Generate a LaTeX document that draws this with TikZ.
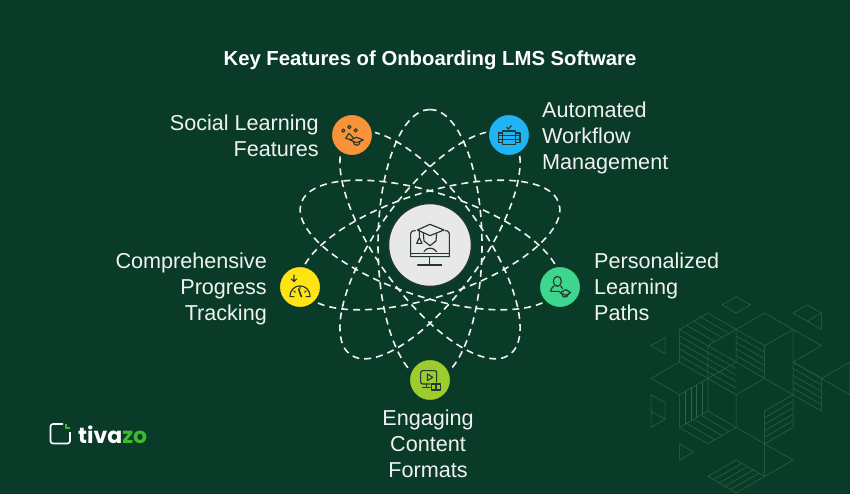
\documentclass[tikz,border=0pt]{standalone}
\usepackage{fontspec}
\setmainfont{Liberation Sans}
\newfontfamily\logofont{Poppins}
\definecolor{bgdark}{HTML}{0A3B28}
\definecolor{patline}{HTML}{2C664A}
\definecolor{inkdark}{HTML}{23382F}
\definecolor{softwhite}{HTML}{F0F2F0}
\definecolor{logogreen}{HTML}{3DBB2F}
\definecolor{orangefill}{HTML}{F89339}
\definecolor{bluefill}{HTML}{1FB5F5}
\definecolor{yellowfill}{HTML}{FFE312}
\definecolor{greenfill}{HTML}{3DD68C}
\definecolor{limefill}{HTML}{9CCC2E}
\tikzset{
  orbit/.style={draw=softwhite, line width=1.6pt, dash pattern=on 7pt off 5pt},
  feat/.style={circle, draw=bgdark, line width=3pt, minimum size=43pt, inner sep=0pt},
  hubnode/.style={circle, draw=inkdark, fill=black!9, line width=1.5pt, minimum size=83pt, inner sep=0pt},
  featlabel/.style={text=softwhite, font=\fontsize{21.6}{26}\selectfont, inner sep=0pt},
  pat/.style={draw=patline, line width=.5pt},
  zoomed/.style={x=.3333pt, y=-.3333pt, draw=inkdark, line width=1.15pt, line join=round, line cap=round},
}
\begin{document}
\begin{tikzpicture}[x=1pt,y=-1pt]
\useasboundingbox (0,0) rectangle (850,494);
\fill[bgdark] (0,0) rectangle (850,494);
% backdrop pattern
\begin{scope}[shift={(651,296.7)},x=28.4pt,y=-8.17pt]
\draw[pat] (2.5,1) -- (3,0) -- (3.5,1) -- (3,2) -- cycle;
\draw[pat] (5,2) -- (5.5,1) -- (6,2) -- (6,4) -- (5.5,3) -- cycle (5.5,3) -- (6,2);
\draw[pat] (1,4) -- (2,2) -- (3,4) -- (4,2) -- (5,4) -- (6,6) -- (5,8) -- (6,10) -- (7,8) -- (7,12) -- (6,10);
\draw[pat] (1,4) -- (1,8) -- (0,10) -- (1,12) -- (1,16) -- (2,18) -- (3,16) -- (3,12) -- (4,10) -- (4,6) -- (3,4) -- (3,8);
\draw[pat] (4,6) -- (5,4) -- (5,12);
\draw[pat] (1,4) -- (2,6) -- (2,14) -- (3,16) (2,6) -- (3,4);
\draw[pat] (1,8) -- (2,10) -- (3,12) (2,10) -- (3,8) -- (4,10) (1,12) -- (2,10) (2,14) -- (1,16) (2,6) -- (3,8);
\draw[pat] (4,10) -- (5,12) -- (5,16) -- (4,18) -- (3,16) (4,14) -- (5,12) (4,14) -- (4,22) -- (5,20) -- (4,18);
\draw[pat] (5,8) -- (6,10) -- (6,14) -- (5,12);
\draw[pat] (4,22) -- (3,24) -- (2,22) -- (3,20) -- cycle;
\draw[pat] (0.5,5) -- (0,6) -- (0.5,7) -- cycle;
\draw[pat] (0,12) -- (0.5,13) -- (0.5,15) -- (0,16) -- cycle (0,14) -- (0.5,15);
\draw[pat] (1,18) -- (1.5,19) -- (1,20) -- cycle;
\foreach \k in {0.8,1.6,2.4,3.2} {
  \draw[pat] (1,4+\k) -- (2,6+\k);
  \draw[pat] (2,6+\k) -- (3,8+\k);
  \draw[pat] (3,4+\k) -- (4,6+\k);
  \draw[pat] (5,8+\k) -- (6,10+\k);
  \draw[pat] (4,14+\k) -- (5,12+\k);
}
\foreach \t in {0.25,0.5,0.75} {
  \draw[pat] (2-\t,2+2*\t) -- (3-\t,4+2*\t);
  \draw[pat] (2-\t,14+2*\t) -- (3-\t,16+2*\t);
}
\foreach \t in {0.2,0.4,0.6,0.8} {
  \draw[pat] (1+\t,12-2*\t) -- (1+\t,16-2*\t);
  \draw[pat] (3+\t,20+2*\t) -- (2+\t,22+2*\t);
}
\end{scope}
% orbits
\coordinate (centre) at (430,245);
\foreach \a in {90,-18,54,126,198} {
  \draw[orbit, rotate around={\a:(centre)}] (centre) ellipse [x radius=135.5pt, y radius=52pt];
}
% nodes
\node[hubnode] (hub) at (430,245) {};
\node[feat, fill=orangefill] (social) at (352,135) {};
\node[feat, fill=bluefill] (workflow) at (509,135) {};
\node[feat, fill=yellowfill] (progress) at (300,287) {};
\node[feat, fill=greenfill] (paths) at (560,287) {};
\node[feat, fill=limefill] (formats) at (430,380) {};
% hub icon
\begin{scope}[shift={(380,195)},zoomed]
\draw (92,145) -- (92,115) -- (97,108) -- (106,107) (195,107) -- (203,108) -- (208,115) -- (208,185) -- (92,185) -- (92,145);
\draw (92,175) -- (208,175);
\draw (148,187) -- (148,208) (113,210) -- (185,210);
\draw (112,105) -- (150,88) -- (192,105) -- (150,122) -- cycle;
\draw (130,115) -- (132,138) -- (150,152) -- (168,138) -- (170,115);
\draw (132,170) .. controls (140,156) and (160,156) .. (170,170);
\draw (118,107) -- (118,130) (110,145) -- (118,128) -- (126,145) -- cycle;
\end{scope}
% social icon
\begin{scope}[shift={(325,105)},zoomed]
\draw (55,77) circle (5) (73,66) circle (5) (92,76) circle (5);
\draw (62,100) -- (72,85) -- (85,98) (62,100) -- (78,104);
\draw (75,105) -- (95,97) -- (115,105) -- (95,113) -- cycle;
\draw (85,111) .. controls (86,124) and (104,124) .. (105,111);
\end{scope}
% workflow icon
\begin{scope}[shift={(480,105)},zoomed]
\draw (68,78) rectangle (106,118);
\draw (68,84) -- (55,84) -- (55,112) -- (68,112) (106,84) -- (120,84) -- (120,112) -- (106,112);
\draw (55,92) -- (120,92) (55,104) -- (120,104);
\draw (80,67) -- (85,72) -- (94,62);
\end{scope}
% progress icon
\begin{scope}[shift={(270,255)},zoomed]
\draw (60,125) .. controls (60,82) and (120,82) .. (120,125) -- (108,125) (60,125) -- (72,125);
\draw[line width=1.6pt] (86,102) -- (94,125);
\draw (72,108) -- (76,112) (90,96) -- (90,100) (108,108) -- (104,112);
\draw (72,60) -- (72,80) (64,72) -- (72,80) -- (80,72);
\end{scope}
% paths icon
\begin{scope}[shift={(530,258)},zoomed]
\draw (82,70) ellipse (12 and 15);
\draw (72,84) -- (64,92) -- (62,100) -- (88,100);
\draw (92,84) -- (98,92);
\draw (90,104) -- (108,95) -- (122,104) -- (108,112) -- cycle;
\draw (96,109) .. controls (97,120) and (112,120) .. (115,109);
\end{scope}
% formats icon
\begin{scope}[shift={(400,350)},zoomed]
\draw[rounded corners=2pt] (90,102) -- (62,102) -- (62,62) -- (110,62) -- (110,96);
\draw (82,72) -- (98,82) -- (82,92) -- cycle;
\draw (80,102) -- (80,112) (68,113) -- (90,113);
\draw (94,102) rectangle (122,120) (108,102) -- (108,120);
\end{scope}
% texts
\node[text=white, font=\fontsize{20.3}{24}\selectfont\bfseries, inner sep=0pt] (title) at (430,60) {Key Features of Onboarding LMS Software};
\node[featlabel, align=right, anchor=east] (sociallabel) at (319,135.5) {Social Learning\\Features};
\node[featlabel, align=left, anchor=west] (workflowlabel) at (542,137.5) {Automated\\Workflow\\Management};
\node[featlabel, align=right, anchor=east] (progresslabel) at (267,288.5) {Comprehensive\\Progress\\Tracking};
\node[featlabel, align=left, anchor=west] (pathslabel) at (594,286.5) {Personalized\\Learning\\Paths};
\node[featlabel, align=center] (formatslabel) at (428,443.5) {Engaging\\Content\\Formats};
% logo
\draw[white, line width=1.6pt, rounded corners=2.5pt] (63,424) -- (50.5,424) -- (50.5,443.5) -- (70,443.5) -- (70,432);
\draw[logogreen, line width=1.6pt] (66,424) -- (66,428) -- (70,428);
\node[anchor=base west, inner sep=0pt, font=\logofont\fontsize{22}{24}\selectfont\bfseries] (logo) at (78,443) {\textcolor{white}{tiva}\textcolor{logogreen}{zo}};
\end{tikzpicture}
\end{document}
